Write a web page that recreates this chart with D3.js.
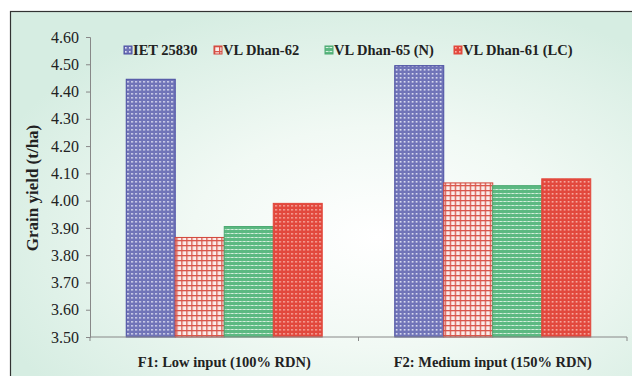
<!DOCTYPE html>
<html><head><meta charset="utf-8">
<script src="https://cdn.jsdelivr.net/npm/d3@7"></script>
<style>body{margin:0;background:#fff}svg{display:block}</style>
</head><body>
<script>
const categories = ["F1: Low input (100% RDN)", "F2: Medium input (150% RDN)"];
const seriesNames = ["IET 25830", "VL Dhan-62", "VL Dhan-65 (N)", "VL Dhan-61 (LC)"];
const iet25830 = [4.445, 4.495];
const vlDhan62 = [3.865, 4.065];
const vlDhan65 = [3.905, 4.055];
const vlDhan61 = [3.99, 4.08];
const yTicks = [3.50, 3.60, 3.70, 3.80, 3.90, 4.00, 4.10, 4.20, 4.30, 4.40, 4.50, 4.60];
const yLabel = "Grain yield (t/ha)";

(function () {
const FONT = "'Liberation Serif', 'Times New Roman', Times, serif";
const seriesValues = [iet25830, vlDhan62, vlDhan65, vlDhan61];
const W = 632, H = 376;
const svg = d3.select("body").append("svg").attr("width", W).attr("height", H);
const defs = svg.append("defs");

const rg = defs.append("radialGradient").attr("id", "bg").attr("cx", "0.58").attr("cy", "0.6").attr("r", "0.65");
rg.append("stop").attr("offset", "0").attr("stop-color", "#ffffff");
rg.append("stop").attr("offset", "0.45").attr("stop-color", "#f1f9f4");
rg.append("stop").attr("offset", "1").attr("stop-color", "#d6ede2");

function pat(id, size, bg, draw) {
  const p = defs.append("pattern").attr("id", id).attr("patternUnits", "userSpaceOnUse")
    .attr("width", size).attr("height", size);
  p.append("rect").attr("width", size).attr("height", size).attr("fill", bg);
  draw(p);
}
pat("pBlue", 4, "#7074b8", p => {
  p.append("rect").attr("x", 1).attr("y", 1).attr("width", 1.6).attr("height", 1.6).attr("fill", "#e4e5f5");
});
pat("pGrid", 5, "#fbece9", p => {
  p.append("rect").attr("x", 0).attr("y", 0).attr("width", 5).attr("height", 1.3).attr("fill", "#d9564b");
  p.append("rect").attr("x", 0).attr("y", 0).attr("width", 1.3).attr("height", 5).attr("fill", "#d9564b");
});
pat("pGreen", 4, "#5cb982", p => {
  p.append("rect").attr("x", 0).attr("y", 1).attr("width", 4).attr("height", 1).attr("fill", "#9fd8b4");
  p.append("rect").attr("x", 1).attr("y", 1).attr("width", 2).attr("height", 1).attr("fill", "#d8f0e0");
});
pat("pRed", 4, "#e2483d", p => {
  p.append("rect").attr("x", 1).attr("y", 1).attr("width", 1.6).attr("height", 1.6).attr("fill", "#f8b2a8");
});
const fills = ["url(#pBlue)", "url(#pGrid)", "url(#pGreen)", "url(#pRed)"];
const strokes = ["#4a4ea2", "#d2453a", "#4aa870", "#e2483d"];

svg.append("rect").attr("x", 10.5).attr("y", 11.5).attr("width", W).attr("height", H)
  .attr("fill", "url(#bg)").attr("stroke", "#333").attr("stroke-width", 1.2);

const mLeft = 90, mRight = 627, mTop = 37, mBottom = 337;
const y = d3.scaleLinear().domain([3.5, 4.6]).range([mBottom, mTop]);
const x0 = d3.scaleBand().domain(categories).range([mLeft, mRight]).paddingInner(0.27).paddingOuter(0.135);
const x1 = d3.scaleBand().domain(seriesNames).range([0, x0.bandwidth()]).padding(0);

const groups = svg.append("g").selectAll("g").data(categories).join("g")
  .attr("transform", c => `translate(${x0(c)},0)`);
groups.selectAll("rect").data((c, ci) => seriesNames.map((s, si) => ({s, si, v: seriesValues[si][ci]})))
  .join("rect")
  .attr("x", d => x1(d.s)).attr("width", x1.bandwidth())
  .attr("y", d => y(d.v)).attr("height", d => mBottom - y(d.v))
  .attr("fill", d => fills[d.si]).attr("stroke", d => strokes[d.si]).attr("stroke-width", 1);

const yAxis = d3.axisLeft(y).tickValues(yTicks).tickFormat(d3.format(".2f")).tickSizeOuter(0).tickSize(4).tickPadding(7);
const gy = svg.append("g").attr("transform", `translate(${mLeft},0)`).call(yAxis);
gy.selectAll("text").attr("font-family", FONT).attr("font-size", 16).attr("fill", "#222");
gy.selectAll("line, path").attr("stroke", "#888");

const xAxis = d3.axisBottom(x0).tickSize(0).tickFormat("");
const gx = svg.append("g").attr("transform", `translate(0,${mBottom})`).call(xAxis);
gx.select("path").attr("stroke", "#888").attr("d", `M${mLeft},0H${mRight}`);
const bounds = [mLeft, (x0(categories[0]) + x0.bandwidth() + x0(categories[1])) / 2, mRight];
gx.selectAll("line.sep").data(bounds).join("line").attr("class", "sep")
  .attr("x1", d => d).attr("x2", d => d).attr("y1", 0).attr("y2", 4).attr("stroke", "#888");
svg.append("g").selectAll("text").data(categories).join("text")
  .attr("x", c => x0(c) + x0.bandwidth() / 2).attr("y", 367)
  .attr("text-anchor", "middle").attr("font-family", FONT).attr("font-weight", "bold")
  .attr("font-size", 14.5).attr("fill", "#222").text(c => c);

svg.append("text").attr("transform", "translate(38,188) rotate(-90)")
  .attr("text-anchor", "middle").attr("font-family", FONT).attr("font-weight", "bold")
  .attr("font-size", 17).attr("fill", "#222").text(yLabel);

const legX = [124, 214, 325, 454];
const leg = svg.append("g").selectAll("g").data(seriesNames).join("g")
  .attr("transform", (d, i) => `translate(${legX[i]},46)`);
leg.append("rect").attr("width", 8).attr("height", 8)
  .attr("fill", (d, i) => fills[i]).attr("stroke", (d, i) => strokes[i]).attr("stroke-width", 1);
leg.append("text").attr("x", 9).attr("y", 9).attr("font-family", FONT).attr("font-weight", "bold")
  .attr("font-size", 14.5).attr("fill", "#222").text(d => d);
})();
</script>
</body></html>
